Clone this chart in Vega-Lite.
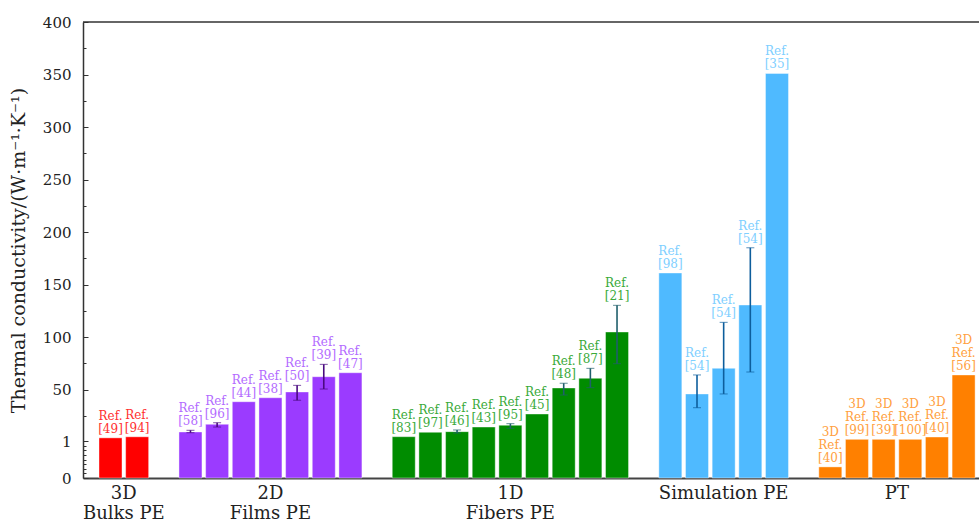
{
  "$schema": "https://vega.github.io/schema/vega-lite/v6.json",
  "width": 896,
  "height": 456,
  "autosize": {"type": "none"},
  "padding": {"left": 83, "top": 22, "right": 0, "bottom": 46},
  "background": "white",
  "config": {"view": {"stroke": null}, "font": "DejaVu Serif"},
  "data": {
    "values": [
      {"id": "r1", "grp": "red", "v": 4, "ref": "Ref.\n[49]"},
      {"id": "r2", "grp": "red", "v": 5, "ref": "Ref.\n[94]"},
      {"id": "p1", "grp": "purple", "v": 9.6, "lo": 8.9, "hi": 11.2, "ref": "Ref.\n[58]"},
      {"id": "p2", "grp": "purple", "v": 16.9, "lo": 14.3, "hi": 18.4, "ref": "Ref.\n[96]"},
      {"id": "p3", "grp": "purple", "v": 38.4, "ref": "Ref.\n[44]"},
      {"id": "p4", "grp": "purple", "v": 42.2, "ref": "Ref.\n[38]"},
      {"id": "p5", "grp": "purple", "v": 47.7, "lo": 39.8, "hi": 54, "ref": "Ref.\n[50]"},
      {"id": "p6", "grp": "purple", "v": 62.2, "lo": 50.5, "hi": 74, "ref": "Ref.\n[39]"},
      {"id": "p7", "grp": "purple", "v": 66, "ref": "Ref.\n[47]"},
      {"id": "f1", "grp": "green", "v": 5.1, "ref": "Ref.\n[83]"},
      {"id": "f2", "grp": "green", "v": 9.3, "ref": "Ref.\n[97]"},
      {"id": "f3", "grp": "green", "v": 9.9, "lo": 8.6, "hi": 11.5, "ref": "Ref.\n[46]"},
      {"id": "f4", "grp": "green", "v": 14.3, "ref": "Ref.\n[43]"},
      {"id": "f5", "grp": "green", "v": 16, "lo": 13.1, "hi": 17.5, "ref": "Ref.\n[95]"},
      {"id": "f6", "grp": "green", "v": 26.7, "ref": "Ref.\n[45]"},
      {"id": "f7", "grp": "green", "v": 51.5, "lo": 44.8, "hi": 56, "ref": "Ref.\n[48]"},
      {"id": "f8", "grp": "green", "v": 60.7, "lo": 51.8, "hi": 70.2, "ref": "Ref.\n[87]"},
      {"id": "f9", "grp": "green", "v": 104.8, "lo": 74.6, "hi": 130.2, "ref": "Ref.\n[21]"},
      {"id": "s1", "grp": "blue", "v": 161, "ref": "Ref.\n[98]"},
      {"id": "s2", "grp": "blue", "v": 45.8, "lo": 32.7, "hi": 63.9, "ref": "Ref.\n[54]"},
      {"id": "s3", "grp": "blue", "v": 70.2, "lo": 45.8, "hi": 114, "ref": "Ref.\n[54]"},
      {"id": "s4", "grp": "blue", "v": 130.5, "lo": 66.7, "hi": 185, "ref": "Ref.\n[54]"},
      {"id": "s5", "grp": "blue", "v": 351, "ref": "Ref.\n[35]"},
      {"id": "o1", "grp": "orange", "v": 0.3, "ref": "3D\nRef.\n[40]"},
      {"id": "o2", "grp": "orange", "v": 2.6, "ref": "3D\nRef.\n[99]"},
      {"id": "o3", "grp": "orange", "v": 2.6, "ref": "3D\nRef.\n[39]"},
      {"id": "o4", "grp": "orange", "v": 2.6, "ref": "3D\nRef.\n[100]"},
      {"id": "o5", "grp": "orange", "v": 4.8, "ref": "3D\nRef.\n[40]"},
      {"id": "o6", "grp": "orange", "v": 63.9, "ref": "3D\nRef.\n[56]"}
    ]
  },
  "layer": [
    {
      "encoding": {
        "x": {
          "field": "id", "type": "nominal", "sort": null,
          "scale": {
            "domain": ["r1","r2","g1","p1","p2","p3","p4","p5","p6","p7","g2","f1","f2","f3","f4","f5","f6","f7","f8","f9","g3","s1","s2","s3","s4","s5","g4","o1","o2","o3","o4","o5","o6"],
            "paddingInner": 0.1375, "paddingOuter": 0.373, "align": 0.804
          },
          "axis": {
            "title": null,
            "values": ["r1", "p4", "f5", "s3", "o3"],
            "labelExpr": "datum.value=='r1'?['3D','Bulks PE']:datum.value=='p4'?['2D','Films PE']:datum.value=='f5'?['1D','Fibers PE']:datum.value=='s3'?'Simulation PE':'PT'",
            "labelOffset": {"condition": {"test": "datum.value=='r1'||datum.value=='o3'", "value": 13.3}, "value": 0},
            "labelAngle": 0,
            "ticks": false,
            "labelPadding": 6,
            "labelFont": "DejaVu Serif",
            "labelFontSize": 18,
            "labelLineHeight": 20,
            "labelColor": "#222",
            "labelBaseline": "top",
            "domainColor": "#444",
            "domainWidth": 2
          }
        }
      },
      "layer": [
        {
          "mark": {"type": "bar", "stroke": "white", "strokeOpacity": 0.4, "strokeWidth": 1},
          "encoding": {
            "y": {
              "field": "v", "type": "quantitative",
              "scale": {"domain": [0, 1, 400], "range": [456, 419, 0], "nice": false},
              "axis": {
                "title": "Thermal conductivity/(W·m⁻¹·K⁻¹)", "titleFont": "DejaVu Serif", "titleFontSize": 19, "titleFontWeight": "normal", "titleColor": "#222", "titlePadding": 14,
                "values": [0, 0.125, 0.25, 0.375, 0.5, 0.625, 0.75, 0.875, 1, 25, 50, 75, 100, 125, 150, 175, 200, 225, 250, 275, 300, 325, 350, 375, 400],
                "labelExpr": "(datum.value==0||datum.value==1||datum.value%50==0)?datum.label:''",
                "labelOverlap": false, "labelFont": "DejaVu Serif", "labelFontSize": 15, "labelColor": "#222", "labelPadding": 17,
                "tickSize": {"condition": {"test": "datum.value==0||datum.value==1||datum.value%50==0", "value": -5}, "value": -3},
                "tickColor": "#333", "tickWidth": 1, "grid": false, "domainColor": "#333", "domainWidth": 1.5
              }
            },
            "color": {
              "field": "grp", "type": "nominal",
              "scale": {"domain": ["red","purple","green","blue","orange"], "range": ["#ff0000","#9b3bff","#008c00","#4fbaff","#ff8000"]},
              "legend": null
            }
          }
        },
        {
          "transform": [{"filter": "datum.hi != null"}],
          "mark": {"type": "errorbar", "ticks": {"size": 8, "strokeWidth": 1.6}, "rule": {"strokeWidth": 1.6}},
          "encoding": {
            "y": {
              "field": "lo", "type": "quantitative",
              "axis": {
                "title": "Thermal conductivity/(W·m⁻¹·K⁻¹)", "titleFont": "DejaVu Serif", "titleFontSize": 19, "titleFontWeight": "normal", "titleColor": "#222", "titlePadding": 14,
                "values": [0, 0.125, 0.25, 0.375, 0.5, 0.625, 0.75, 0.875, 1, 25, 50, 75, 100, 125, 150, 175, 200, 225, 250, 275, 300, 325, 350, 375, 400],
                "labelExpr": "(datum.value==0||datum.value==1||datum.value%50==0)?datum.label:''",
                "labelOverlap": false, "labelFont": "DejaVu Serif", "labelFontSize": 15, "labelColor": "#222", "labelPadding": 17,
                "tickSize": {"condition": {"test": "datum.value==0||datum.value==1||datum.value%50==0", "value": -5}, "value": -3},
                "tickColor": "#333", "tickWidth": 1, "grid": false, "domainColor": "#333", "domainWidth": 1.5
              }
            },
            "y2": {"field": "hi"},
            "color": {
              "field": "grp", "type": "nominal",
              "scale": {"domain": ["red","purple","green","blue","orange"], "range": ["#800000","#4a0a80","#1f5f6b","#0d5e9c","#a04000"]},
              "legend": null
            }
          }
        },
        {
          "transform": [{"filter": "datum.hi == null && datum.grp != 'orange'"}],
          "mark": {"type": "text", "lineBreak": "\n", "baseline": "bottom", "dy": -15, "font": "DejaVu Serif", "fontSize": 12, "lineHeight": 13},
          "encoding": {
            "y": {
              "field": "v", "type": "quantitative",
              "axis": {
                "title": "Thermal conductivity/(W·m⁻¹·K⁻¹)", "titleFont": "DejaVu Serif", "titleFontSize": 19, "titleFontWeight": "normal", "titleColor": "#222", "titlePadding": 14,
                "values": [0, 0.125, 0.25, 0.375, 0.5, 0.625, 0.75, 0.875, 1, 25, 50, 75, 100, 125, 150, 175, 200, 225, 250, 275, 300, 325, 350, 375, 400],
                "labelExpr": "(datum.value==0||datum.value==1||datum.value%50==0)?datum.label:''",
                "labelOverlap": false, "labelFont": "DejaVu Serif", "labelFontSize": 15, "labelColor": "#222", "labelPadding": 17,
                "tickSize": {"condition": {"test": "datum.value==0||datum.value==1||datum.value%50==0", "value": -5}, "value": -3},
                "tickColor": "#333", "tickWidth": 1, "grid": false, "domainColor": "#333", "domainWidth": 1.5
              }
            },
            "text": {"field": "ref"},
            "color": {
              "field": "grp", "type": "nominal",
              "scale": {"domain": ["red","purple","green","blue","orange"], "range": ["#ff3030","#b36bff","#3aaa3a","#80cfff","#ffa040"]},
              "legend": null
            }
          }
        },
        {
          "transform": [{"filter": "datum.grp == 'orange'"}],
          "mark": {"type": "text", "lineBreak": "\n", "baseline": "bottom", "dy": -28, "font": "DejaVu Serif", "fontSize": 12, "lineHeight": 13},
          "encoding": {
            "y": {
              "field": "v", "type": "quantitative",
              "axis": {
                "title": "Thermal conductivity/(W·m⁻¹·K⁻¹)", "titleFont": "DejaVu Serif", "titleFontSize": 19, "titleFontWeight": "normal", "titleColor": "#222", "titlePadding": 14,
                "values": [0, 0.125, 0.25, 0.375, 0.5, 0.625, 0.75, 0.875, 1, 25, 50, 75, 100, 125, 150, 175, 200, 225, 250, 275, 300, 325, 350, 375, 400],
                "labelExpr": "(datum.value==0||datum.value==1||datum.value%50==0)?datum.label:''",
                "labelOverlap": false, "labelFont": "DejaVu Serif", "labelFontSize": 15, "labelColor": "#222", "labelPadding": 17,
                "tickSize": {"condition": {"test": "datum.value==0||datum.value==1||datum.value%50==0", "value": -5}, "value": -3},
                "tickColor": "#333", "tickWidth": 1, "grid": false, "domainColor": "#333", "domainWidth": 1.5
              }
            },
            "text": {"field": "ref"},
            "color": {
              "field": "grp", "type": "nominal",
              "scale": {"domain": ["red","purple","green","blue","orange"], "range": ["#ff3030","#b36bff","#3aaa3a","#80cfff","#ffa040"]},
              "legend": null
            }
          }
        },
        {
          "transform": [{"filter": "datum.hi != null"}],
          "mark": {"type": "text", "lineBreak": "\n", "baseline": "bottom", "dy": -15, "font": "DejaVu Serif", "fontSize": 12, "lineHeight": 13},
          "encoding": {
            "y": {
              "field": "hi", "type": "quantitative",
              "axis": {
                "title": "Thermal conductivity/(W·m⁻¹·K⁻¹)", "titleFont": "DejaVu Serif", "titleFontSize": 19, "titleFontWeight": "normal", "titleColor": "#222", "titlePadding": 14,
                "values": [0, 0.125, 0.25, 0.375, 0.5, 0.625, 0.75, 0.875, 1, 25, 50, 75, 100, 125, 150, 175, 200, 225, 250, 275, 300, 325, 350, 375, 400],
                "labelExpr": "(datum.value==0||datum.value==1||datum.value%50==0)?datum.label:''",
                "labelOverlap": false, "labelFont": "DejaVu Serif", "labelFontSize": 15, "labelColor": "#222", "labelPadding": 17,
                "tickSize": {"condition": {"test": "datum.value==0||datum.value==1||datum.value%50==0", "value": -5}, "value": -3},
                "tickColor": "#333", "tickWidth": 1, "grid": false, "domainColor": "#333", "domainWidth": 1.5
              }
            },
            "text": {"field": "ref"},
            "color": {
              "field": "grp", "type": "nominal",
              "scale": {"domain": ["red","purple","green","blue","orange"], "range": ["#ff3030","#b36bff","#3aaa3a","#80cfff","#ffa040"]},
              "legend": null
            }
          }
        }
      ],
      "resolve": {"scale": {"color": "independent"}}
    },
    {
      "data": {"values": [{"top": 400}]},
      "mark": {"type": "rule", "color": "#333", "strokeWidth": 1.5},
      "encoding": {
        "y": {
          "field": "top", "type": "quantitative",
          "axis": {
            "title": "Thermal conductivity/(W·m⁻¹·K⁻¹)", "titleFont": "DejaVu Serif", "titleFontSize": 19, "titleFontWeight": "normal", "titleColor": "#222", "titlePadding": 14,
            "values": [0, 0.125, 0.25, 0.375, 0.5, 0.625, 0.75, 0.875, 1, 25, 50, 75, 100, 125, 150, 175, 200, 225, 250, 275, 300, 325, 350, 375, 400],
            "labelExpr": "(datum.value==0||datum.value==1||datum.value%50==0)?datum.label:''",
            "labelOverlap": false, "labelFont": "DejaVu Serif", "labelFontSize": 15, "labelColor": "#222", "labelPadding": 17,
            "tickSize": {"condition": {"test": "datum.value==0||datum.value==1||datum.value%50==0", "value": -5}, "value": -3},
            "tickColor": "#333", "tickWidth": 1, "grid": false, "domainColor": "#333", "domainWidth": 1.5
          }
        }
      }
    }
  ],
  "resolve": {"scale": {"color": "independent"}}
}
